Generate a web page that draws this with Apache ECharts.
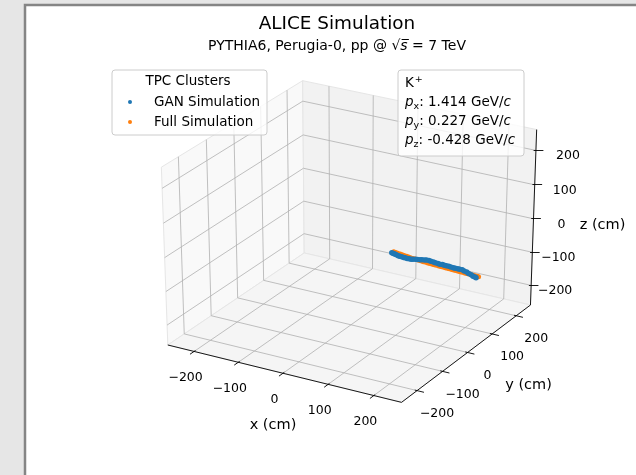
<!DOCTYPE html>
<html>
<head>
<meta charset="utf-8">
<script src="https://cdn.jsdelivr.net/npm/echarts@6/dist/echarts.min.js"></script>
<style>
html, body { margin: 0; padding: 0; background: #e6e6e6; }
#chart { width: 636px; height: 475px; }
</style>
</head>
<body>
<div id="chart"></div>
<script>
// axis range (cm) and ticks
var axisMin = -260, axisMax = 260;
var ticks = [-200, -100, 0, 100, 200];
var tickLabels = ['\u2212200', '\u2212100', '0', '100', '200'];
var axisNames = ['x (cm)', 'y (cm)', 'z (cm)'];

// kaon momentum (GeV/c)
var particle = 'K';
var momentum = [1.414, 0.227, -0.428];

// TPC clusters, GAN simulation (cm)
var ganX = [83, 86, 89, 92, 96, 99, 103, 107, 110, 114, 118, 122, 126, 131, 135, 140, 144, 149, 153, 158, 162,
    167, 171, 176, 180, 185, 189, 193, 198, 202, 207, 211, 216, 220, 225, 229, 234, 238, 243, 247, 251, 253];
var ganY = [13.1, 13.9, 14.2, 14.9, 15.2, 15.9, 16.4, 17.2, 17.5, 18.3, 18.8, 19.6, 20.0, 21.0, 21.5, 22.4, 22.9,
    23.9, 24.4, 25.3, 25.8, 26.8, 27.2, 28.2, 28.6, 29.7, 30.1, 30.9, 31.6, 32.3, 33.2, 33.7, 34.6, 35.1, 36.1,
    36.5, 37.5, 38.0, 39.0, 39.4, 40.2, 40.5];
var ganZ = [-25.0, -26.6, -27.8, -29.7, -30.9, -32.2, -32.9, -34.1, -34.4, -35.2, -35.4, -35.7, -34.8, -34.2,
    -33.4, -33.1, -32.3, -32.1, -31.4, -31.7, -32.6, -33.8, -35.6, -36.4, -37.6, -37.9, -38.6, -39.1, -39.8,
    -41.2, -41.9, -42.6, -42.9, -43.7, -44.4, -46.6, -48.8, -52.1, -54.9, -58.2, -59.8, -61.1];

// TPC clusters, full simulation (cm)
var fullX = [87, 91, 95, 100, 104, 108, 113, 117, 121, 126, 130, 134, 139, 143, 147, 152, 156, 160, 165, 169, 173,
    178, 182, 186, 191, 195, 199, 204, 208, 212, 217, 221, 225, 230, 234, 238, 243, 247, 251, 255, 258];
var fullY = [13.7, 14.4, 15.0, 15.8, 16.5, 17.1, 17.9, 18.5, 19.2, 20.0, 20.6, 21.3, 22.1, 22.7, 23.4, 24.2, 24.8,
    25.5, 26.3, 26.9, 27.6, 28.4, 29.0, 29.7, 30.5, 31.1, 31.8, 32.6, 33.2, 33.9, 34.7, 35.3, 36.0, 36.8, 37.4,
    38.1, 38.9, 39.5, 40.2, 40.8, 41.3];
var fullZ = [-21.6, -22.8, -24.0, -25.5, -26.6, -27.8, -29.2, -30.3, -31.4, -32.6, -33.6, -34.6, -35.8, -36.7,
    -37.5, -38.4, -39.1, -39.9, -40.9, -41.6, -42.3, -43.2, -43.9, -44.6, -45.5, -46.2, -46.9, -47.8, -48.5,
    -49.2, -50.1, -50.8, -51.5, -52.4, -53.1, -53.8, -54.7, -55.4, -56.0, -56.7, -57.2];

// view
var elev = 31, azim = -60, camDist = 30;
var scaleX = 135, scaleY = 103, centerX = 351, centerY = 238;

var el = elev * Math.PI / 180, az = azim * Math.PI / 180;
var eyeDir = [Math.cos(el) * Math.cos(az), Math.cos(el) * Math.sin(az), Math.sin(el)];
var rightDir = [-Math.sin(az), Math.cos(az), 0];
var upDir = [-Math.sin(el) * Math.cos(az), -Math.sin(el) * Math.sin(az), Math.cos(el)];

function project(x, y, z) {
    var half = (axisMax - axisMin) / 2, mid = (axisMax + axisMin) / 2;
    var p = [(x - mid) / half, (y - mid) / half, (z - mid) / half];
    function dot(a) { return a[0] * p[0] + a[1] * p[1] + a[2] * p[2]; }
    var f = camDist / (camDist - dot(eyeDir));
    return [centerX + scaleX * dot(rightDir) * f, centerY - scaleY * dot(upDir) * f];
}

var lo = axisMin, hi = axisMax;

// panes: left (x = min), back (y = max), floor (z = min)
var panes = [
    {corners: [[lo, lo, lo], [lo, hi, lo], [lo, hi, hi], [lo, lo, hi]], color: '#f9f9f9'},
    {corners: [[lo, hi, lo], [hi, hi, lo], [hi, hi, hi], [lo, hi, hi]], color: '#f2f2f2'},
    {corners: [[lo, lo, lo], [hi, lo, lo], [hi, hi, lo], [lo, hi, lo]], color: '#f5f5f5'}
];

function seg(a, b) {
    return {coords: [project(a[0], a[1], a[2]), project(b[0], b[1], b[2])]};
}

var gridLines = [];
ticks.forEach(function (t) {
    gridLines.push(seg([t, lo, lo], [t, hi, lo]));
    gridLines.push(seg([lo, t, lo], [hi, t, lo]));
    gridLines.push(seg([lo, t, lo], [lo, t, hi]));
    gridLines.push(seg([lo, lo, t], [lo, hi, t]));
    gridLines.push(seg([t, hi, lo], [t, hi, hi]));
    gridLines.push(seg([lo, hi, t], [hi, hi, t]));
});

var axisLines = [
    seg([lo, lo, lo], [hi, lo, lo]),
    seg([hi, lo, lo], [hi, hi, lo]),
    seg([hi, hi, lo], [hi, hi, hi])
];
ticks.forEach(function (t) {
    axisLines.push(seg([t, lo + 5, lo], [t, lo - 15, lo]));
    axisLines.push(seg([hi - 5, t, lo], [hi + 15, t, lo]));
    axisLines.push(seg([hi - 5, hi, t], [hi + 12, hi + 8, t]));
});

// tick and axis labels: positions next to the projected ticks
var tickLabelPos = [], tickLabelText = [];
ticks.forEach(function (t, i) {
    var px = project(t, lo, lo);
    tickLabelPos.push([px[0] - 8.5, px[1] + 26]);
    tickLabelText.push(tickLabels[i]);
    var py = project(hi, t, lo);
    tickLabelPos.push([py[0] + 20, py[1] + 23]);
    tickLabelText.push(tickLabels[i]);
    var pz = project(hi, hi, t);
    tickLabelPos.push([pz[0] + 28 + t * 0.02, pz[1] + 5.5]);
    tickLabelText.push(tickLabels[i]);
});
var mx = project(0, lo, lo), my = project(hi, 0, lo), mz = project(hi, hi, 0);
var axisNamePos = [[mx[0] - 10, mx[1] + 52], [my[0] + 61, my[1] + 33], [mz[0] + 69, mz[1] + 6]];

function toScreen(xs, ys, zs) {
    return xs.map(function (x, i) { return project(x, ys[i], zs[i]); });
}

function textItem(texts, fontSize) {
    return function (params, api) {
        var pt = api.coord([api.value(0), api.value(1)]);
        return {
            type: 'text',
            x: pt[0], y: pt[1],
            style: {
                text: texts[params.dataIndex],
                fill: '#000',
                font: fontSize + 'px "DejaVu Sans"',
                align: 'center',
                verticalAlign: 'middle'
            }
        };
    };
}

var chart = echarts.init(document.getElementById('chart'));
var option = {
    animation: false,
    backgroundColor: 'transparent',
    title: {
        text: 'ALICE Simulation',
        subtext: '{n|PYTHIA6, Perugia-0, pp @ \u221a}{s|s\u0305}{n| = 7 TeV}',
        left: 332,
        top: 10,
        textAlign: 'center',
        itemGap: 6,
        textStyle: {fontSize: 18.4, fontWeight: 'normal', color: '#000', fontFamily: 'DejaVu Sans'},
        subtextStyle: {
            color: '#000',
            rich: {
                n: {fontSize: 14, color: '#000', fontFamily: 'DejaVu Sans'},
                s: {fontSize: 14, color: '#000', fontFamily: 'DejaVu Sans', fontStyle: 'italic'}
            }
        }
    },
    legend: {
        data: ['GAN Simulation', 'Full Simulation'],
        orient: 'vertical',
        left: 112,
        top: 70,
        padding: [25, 7, 6, 16],
        itemGap: 6,
        itemWidth: 4,
        itemHeight: 4,
        icon: 'circle',
        backgroundColor: 'rgba(255,255,255,0.8)',
        borderColor: '#cccccc',
        borderWidth: 1,
        borderRadius: 3,
        selectedMode: false,
        textStyle: {fontSize: 13.5, color: '#000', fontFamily: 'DejaVu Sans', lineHeight: 14, padding: [0, 0, 0, 17]}
    },
    graphic: [
        {
            type: 'rect', z: -10, silent: true,
            shape: {x: 25, y: 5, width: 700, height: 600},
            style: {fill: '#ffffff', stroke: '#858585', lineWidth: 2.5}
        },
        {
            type: 'text', z: 100, x: 188, y: 74,
            style: {text: 'TPC Clusters', fill: '#000', font: '13.5px "DejaVu Sans"', align: 'center'}
        },
        {
            type: 'rect', z: 90, silent: true,
            shape: {x: 398, y: 70, width: 126, height: 86, r: 3},
            style: {fill: 'rgba(255,255,255,0.8)', stroke: '#cccccc', lineWidth: 1}
        },
        {
            type: 'text', z: 100, x: 405, y: 74,
            style: {
                text: '{n|' + particle + '}{sup|+}\n' +
                    '{i|p}{sub|x}{n|: ' + momentum[0].toFixed(3) + ' GeV/}{i|c}\n' +
                    '{i|p}{sub|y}{n|: ' + momentum[1].toFixed(3) + ' GeV/}{i|c}\n' +
                    '{i|p}{sub|z}{n|: ' + momentum[2].toFixed(3) + ' GeV/}{i|c}',
                rich: {
                    n: {fontSize: 13.5, fontFamily: 'DejaVu Sans', fill: '#000', lineHeight: 19},
                    i: {fontSize: 13.5, fontFamily: 'DejaVu Sans', fontStyle: 'italic', fill: '#000', lineHeight: 19},
                    sub: {fontSize: 9.5, fontFamily: 'DejaVu Sans', fill: '#000', lineHeight: 19, padding: [8, 0, 0, 0]},
                    sup: {fontSize: 9.5, fontFamily: 'DejaVu Sans', fill: '#000', lineHeight: 19, padding: [0, 0, 8, 1]}
                }
            }
        }
    ],
    grid: {left: 0, right: 0, top: 0, bottom: 0},
    xAxis: {type: 'value', min: 0, max: 636, show: false},
    yAxis: {type: 'value', min: 0, max: 475, inverse: true, show: false},
    series: [
        {
            type: 'custom',
            silent: true,
            z: 1,
            data: panes.map(function (p, i) { return [i]; }),
            renderItem: function (params, api) {
                var pane = panes[params.dataIndex];
                var pts = pane.corners.map(function (c) { return api.coord(project(c[0], c[1], c[2])); });
                return {
                    type: 'polygon',
                    shape: {points: pts},
                    style: {fill: pane.color, stroke: '#e6e6e6', lineWidth: 1}
                };
            }
        },
        {
            type: 'lines',
            coordinateSystem: 'cartesian2d',
            silent: true,
            z: 2,
            lineStyle: {color: '#b0b0b0', width: 0.8, opacity: 1},
            data: gridLines
        },
        {
            type: 'lines',
            coordinateSystem: 'cartesian2d',
            silent: true,
            z: 3,
            lineStyle: {color: '#000', width: 0.9, opacity: 1},
            data: axisLines
        },
        {
            name: 'Full Simulation',
            type: 'scatter',
            z: 4,
            symbolSize: 5,
            itemStyle: {color: '#ff7f0e', opacity: 1},
            data: toScreen(fullX, fullY, fullZ)
        },
        {
            name: 'GAN Simulation',
            type: 'scatter',
            z: 5,
            symbolSize: 5.5,
            itemStyle: {color: '#1f77b4', opacity: 1},
            data: toScreen(ganX, ganY, ganZ)
        },
        {
            type: 'custom',
            silent: true,
            z: 6,
            data: tickLabelPos,
            renderItem: textItem(tickLabelText, 12.5)
        },
        {
            type: 'custom',
            silent: true,
            z: 6,
            data: axisNamePos,
            renderItem: textItem(axisNames, 14.5)
        }
    ]
};
chart.setOption(option);
</script>
</body>
</html>
